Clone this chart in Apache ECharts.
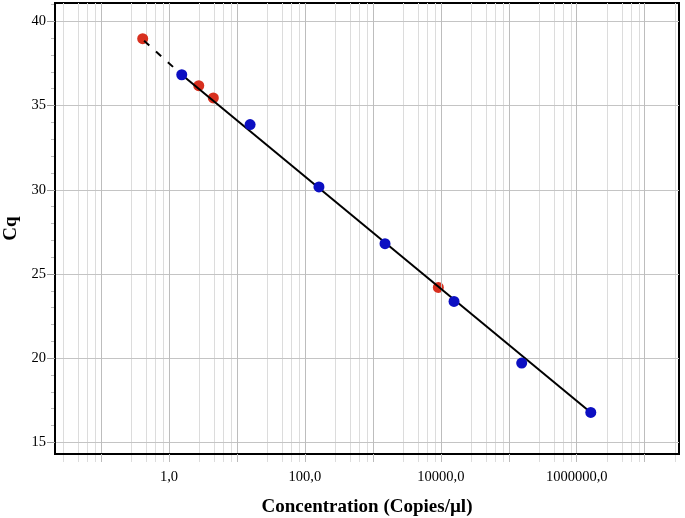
<!DOCTYPE html>
<html>
<head>
<meta charset="utf-8">
<script src="https://cdn.jsdelivr.net/npm/echarts@6/dist/echarts.min.js"></script>
<style>
  html, body { margin: 0; padding: 0; background: #fff; }
  #chart { width: 685px; height: 518px; }
</style>
</head>
<body>
<div id="chart"></div>
<script>
// ---- data ----
const redConc = [0.41, 2.74, 4.49, 9190];
const redCq = [38.97, 36.18, 35.45, 24.2];
const blueConc = [1.54, 15.6, 161, 1510, 15640, 155000, 1610000];
const blueCq = [36.83, 33.87, 30.17, 26.8, 23.37, 19.71, 16.78];
const fitConc = [1.54, 1610000];
const fitCq = [36.83, 16.78];
const extrapConc = [0.43, 1.54];
const extrapCq = [38.85, 36.83];

// ---- tick values ----
const xDecades = [0.01, 0.1, 1, 10, 100, 1000, 10000, 100000, 1000000, 10000000];
const xMajorTicks = [0.1, 1, 10, 100, 1000, 10000, 100000, 1000000, 10000000];
const xLabelTicks = [1, 100, 10000, 1000000];
const xMinorMult = [2.8, 4.6, 6.3, 8.2];
const yMajorTicks = [15, 20, 25, 30, 35, 40];
const yMinorTicks = [15, 16, 17, 18, 19, 20, 21, 22, 23, 24, 25, 26, 27, 28, 29, 30, 31, 32, 33, 34, 35, 36, 37, 38, 39, 40, 41];

const X_MIN = 0.021, X_MAX = 3.2e7, Y_MIN = 14.31, Y_MAX = 41.09;

const xMinorTicks = [];
xDecades.forEach(d => xMinorMult.forEach(m => {
  const v = d * m;
  if (v > X_MIN && v < X_MAX) xMinorTicks.push(v);
}));

const pairs = (xs, ys) => xs.map((x, i) => [x, ys[i]]);
const serif = 'Liberation Serif';

const chart = echarts.init(document.getElementById('chart'), null, { renderer: 'canvas' });
chart.setOption({
  animation: false,
  backgroundColor: '#fff',
  grid: {
    left: 55, right: 6, top: 3, bottom: 64,
    containLabel: false, outerBoundsMode: 'none',
    show: true, borderColor: '#000', borderWidth: 2, backgroundColor: 'transparent'
  },
  xAxis: [
    {
      type: 'log', logBase: 10, min: X_MIN, max: X_MAX, position: 'bottom',
      name: 'Concentration (Copies/µl)', nameLocation: 'middle', nameGap: 44,
      nameTextStyle: { fontFamily: serif, fontWeight: 'bold', fontSize: 19, color: '#000' },
      axisLine: { show: true, lineStyle: { color: '#000', width: 2 } },
      axisTick: { show: true, customValues: xMajorTicks, length: 8, lineStyle: { color: '#bbb', width: 1 } },
      axisLabel: {
        show: true, customValues: xLabelTicks, margin: 16,
        fontFamily: serif, fontSize: 14.5, color: '#000',
        formatter: v => Number(v).toFixed(1).replace('.', ',')
      },
      splitLine: { show: true, lineStyle: { color: '#bdbdbd', width: 1 } },
      minorTick: { show: false }, minorSplitLine: { show: false },
      z: 3
    },
    {
      type: 'log', logBase: 10, min: X_MIN, max: X_MAX, position: 'bottom',
      axisLine: { show: false },
      axisTick: { show: true, customValues: xMinorTicks, length: 8, lineStyle: { color: '#ddd', width: 1 } },
      axisLabel: { show: false },
      splitLine: { show: true, lineStyle: { color: '#dcdcdc', width: 1 } },
      minorTick: { show: false }, minorSplitLine: { show: false },
      z: 1
    }
  ],
  yAxis: [
    {
      type: 'value', min: Y_MIN, max: Y_MAX, position: 'left',
      name: 'Cq', nameLocation: 'middle', nameGap: 32, nameRotate: 90,
      nameTextStyle: { fontFamily: serif, fontWeight: 'bold', fontSize: 19, color: '#000' },
      axisLine: { show: true, lineStyle: { color: '#000', width: 2 } },
      axisTick: { show: true, customValues: yMajorTicks, length: 8, lineStyle: { color: '#999', width: 1 } },
      axisLabel: {
        show: true, customValues: yMajorTicks, margin: 9,
        fontFamily: serif, fontSize: 14.5, color: '#000'
      },
      splitLine: { show: true, lineStyle: { color: '#c4c4c4', width: 1 } },
      z: 3
    },
    {
      type: 'value', min: Y_MIN, max: Y_MAX, position: 'left',
      axisLine: { show: false },
      axisTick: { show: true, customValues: yMinorTicks, length: 4, lineStyle: { color: '#bbb', width: 1 } },
      axisLabel: { show: false },
      splitLine: { show: false }
    }
  ],
  series: [
    {
      name: 'red', type: 'scatter', xAxisIndex: 0, yAxisIndex: 0,
      data: pairs(redConc, redCq), symbol: 'circle', symbolSize: 11,
      itemStyle: { color: '#d8301f', opacity: 1 }, z: 2, silent: true
    },
    {
      name: 'extrapolation', type: 'line', xAxisIndex: 0, yAxisIndex: 0,
      data: pairs(extrapConc, extrapCq), showSymbol: false, symbol: 'none',
      lineStyle: { color: '#000', width: 2, type: [7, 9] }, z: 3, silent: true
    },
    {
      name: 'fit', type: 'line', xAxisIndex: 0, yAxisIndex: 0,
      data: pairs(fitConc, fitCq), showSymbol: false, symbol: 'none',
      lineStyle: { color: '#000', width: 2 }, z: 3, silent: true
    },
    {
      name: 'blue', type: 'scatter', xAxisIndex: 0, yAxisIndex: 0,
      data: pairs(blueConc, blueCq), symbol: 'circle', symbolSize: 11,
      itemStyle: { color: '#0c0fc2', opacity: 1 }, z: 4, silent: true
    }
  ]
});
</script>
</body>
</html>
